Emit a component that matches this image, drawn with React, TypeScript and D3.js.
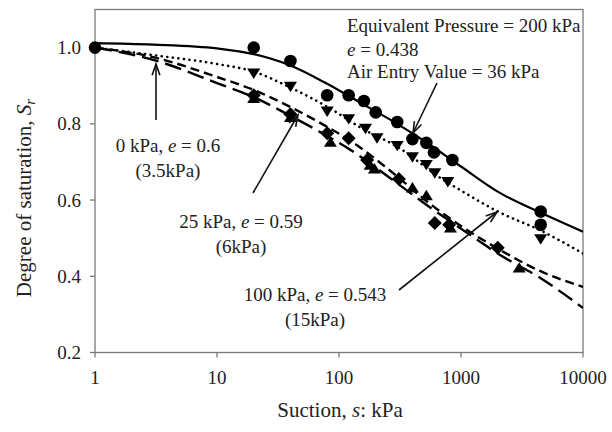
import React from "react";
import * as d3 from "d3";

// ---- data (suction s in kPa, degree of saturation Sr) ----
const xTicks = [1, 10, 100, 1000, 10000];
const yTicks = [0.2, 0.4, 0.6, 0.8, 1.0];

const circlePts: [number, number][] = [
  [1, 1.0], [20, 1.0], [40, 0.965], [80, 0.875], [120, 0.875], [160, 0.86],
  [200, 0.83], [300, 0.805], [400, 0.76], [520, 0.75], [600, 0.725], [850, 0.705],
  [4500, 0.57], [4500, 0.535],
];
const downTriPts: [number, number][] = [
  [20, 0.935], [40, 0.9], [80, 0.835], [120, 0.815], [165, 0.79], [205, 0.765],
  [300, 0.745], [400, 0.715], [520, 0.695], [610, 0.673], [780, 0.65], [4500, 0.5],
];
const diamondPts: [number, number][] = [
  [20, 0.875], [40, 0.825], [80, 0.775], [120, 0.762], [170, 0.705], [310, 0.655],
  [610, 0.54], [800, 0.535], [2000, 0.475],
];
const upTriPts: [number, number][] = [
  [20, 0.865], [40, 0.815], [85, 0.75], [180, 0.69], [195, 0.68], [400, 0.63],
  [520, 0.61], [820, 0.525], [3000, 0.42],
];

// fitted curves
const curveSolid: [number, number][] = [
  [1, 1.012], [3, 1.008], [10, 0.998], [20, 0.983], [40, 0.953], [80, 0.905],
  [150, 0.855], [300, 0.8], [500, 0.755], [1000, 0.688], [2000, 0.622],
  [5000, 0.56], [10000, 0.517],
];
const curveDotted: [number, number][] = [
  [1, 1.0], [3.2, 0.979], [10, 0.957], [20, 0.937], [40, 0.895], [80, 0.845],
  [160, 0.785], [300, 0.74], [700, 0.655], [1000, 0.625], [2000, 0.57],
  [4500, 0.52], [10000, 0.46],
];
const curveShortDash: [number, number][] = [
  [1, 1.0], [3, 0.975], [10, 0.923], [20, 0.889], [40, 0.844], [80, 0.792],
  [125, 0.755], [247, 0.684], [590, 0.584], [1000, 0.532], [2090, 0.469],
  [4440, 0.414], [10000, 0.372],
];
const curveLongDash: [number, number][] = [
  [1, 1.0], [3, 0.968], [10, 0.907], [20, 0.87], [40, 0.821], [80, 0.768],
  [125, 0.731], [247, 0.664], [590, 0.575], [1000, 0.525], [2090, 0.456],
  [4440, 0.396], [10000, 0.317],
];

const W = 612;
const H = 432;
const L = 95, R = 583, T = 9.5, B = 352.5;
const FONT = "'Liberation Serif', 'Times New Roman', serif";

function Arrow({ x1, y1, x2, y2 }: { x1: number; y1: number; x2: number; y2: number }) {
  const ang = Math.atan2(y2 - y1, x2 - x1);
  const len = 12, spread = 0.33;
  const a1 = ang + Math.PI - spread, a2 = ang + Math.PI + spread;
  return (
    <g stroke="#111" strokeWidth={1.6} fill="none">
      <line x1={x1} y1={y1} x2={x2} y2={y2} />
      <polyline
        points={`${x2 + len * Math.cos(a1)},${y2 + len * Math.sin(a1)} ${x2},${y2} ${x2 + len * Math.cos(a2)},${y2 + len * Math.sin(a2)}`}
      />
    </g>
  );
}

export default function App() {
  const x = d3.scaleLog().domain([1, 10000]).range([L, R]);
  const y = d3.scaleLinear().domain([0.2, 1.1]).range([B, T]);
  const line = d3
    .line<[number, number]>()
    .x((d) => x(d[0]))
    .y((d) => y(d[1]))
    .curve(d3.curveMonotoneX);

  const tri = (cx: number, cy: number, r: number, up: boolean) => {
    const s = up ? -1 : 1;
    return `M${cx - r},${cy - s * r * 0.6} L${cx + r},${cy - s * r * 0.6} L${cx},${cy + s * r * 1.0} Z`;
  };

  return (
    <svg width={W} height={H} style={{ position: "absolute", left: 0, top: 0, background: "#fff" }}>
      <defs>
        <clipPath id="plot">
          <rect x={L} y={T} width={R - L} height={B - T} />
        </clipPath>
      </defs>
      <rect x={0} y={0} width={W} height={H} fill="#fff" />
      {/* frame */}
      <rect x={L} y={T} width={R - L} height={B - T} fill="none" stroke="#7a7a7a" strokeWidth={1.3} />
      {/* ticks */}
      {xTicks.map((t) => (
        <line key={"xt" + t} x1={x(t)} x2={x(t)} y1={B} y2={B + 5} stroke="#7a7a7a" strokeWidth={1.3} />
      ))}
      {yTicks.map((t) => (
        <line key={"yt" + t} x1={L - 5} x2={L} y1={y(t)} y2={y(t)} stroke="#7a7a7a" strokeWidth={1.3} />
      ))}
      {xTicks.map((t) => (
        <text key={"xl" + t} x={x(t)} y={384} textAnchor="middle" fontFamily={FONT} fontSize={19} fill="#222">
          {t}
        </text>
      ))}
      {yTicks.map((t) => (
        <text key={"yl" + t} x={81} y={y(t) + 6.5} textAnchor="end" fontFamily={FONT} fontSize={19} fill="#222">
          {t.toFixed(1)}
        </text>
      ))}
      {/* axis titles */}
      <text x={340} y={417} textAnchor="middle" fontFamily={FONT} fontSize={21} fill="#222">
        Suction, <tspan fontStyle="italic">s</tspan>: kPa
      </text>
      <text
        transform={`translate(31,198) rotate(-90)`}
        textAnchor="middle"
        fontFamily={FONT}
        fontSize={21}
        fill="#222"
      >
        Degree of saturation, <tspan fontStyle="italic">S</tspan>
        <tspan fontStyle="italic" fontSize={15} dy={4}>r</tspan>
      </text>

      {/* curves */}
      <g clipPath="url(#plot)" fill="none" stroke="#000">
        <path d={line(curveSolid) || ""} strokeWidth={2.2} />
        <path d={line(curveDotted) || ""} strokeWidth={2.6} strokeDasharray="0.1 5.5" strokeLinecap="round" />
        <path d={line(curveShortDash) || ""} strokeWidth={2.4} strokeDasharray="9 5" />
        <path d={line(curveLongDash) || ""} strokeWidth={2.4} strokeDasharray="17 7" />
      </g>

      {/* markers */}
      <g fill="#000">
        {circlePts.map((d, i) => (
          <circle key={"c" + i} cx={x(d[0])} cy={y(d[1])} r={6.3} />
        ))}
        {downTriPts.map((d, i) => (
          <path key={"dt" + i} d={tri(x(d[0]), y(d[1]), 6.5, false)} />
        ))}
        {diamondPts.map((d, i) => (
          <path
            key={"dm" + i}
            d={`M${x(d[0])},${y(d[1]) - 7} L${x(d[0]) + 7},${y(d[1])} L${x(d[0])},${y(d[1]) + 7} L${x(d[0]) - 7},${y(d[1])} Z`}
          />
        ))}
        {upTriPts.map((d, i) => (
          <path key={"ut" + i} d={tri(x(d[0]), y(d[1]), 6.5, true)} />
        ))}
      </g>

      {/* annotations */}
      <g fontFamily={FONT} fontSize={19} fill="#222">
        <text x={347} y={32}>Equivalent Pressure = 200 kPa</text>
        <text x={347} y={56}>
          <tspan fontStyle="italic">e</tspan> = 0.438
        </text>
        <text x={347} y={78}>Air Entry Value = 36 kPa</text>

        <text x={168} y={152} textAnchor="middle">
          0 kPa, <tspan fontStyle="italic">e</tspan> = 0.6
        </text>
        <text x={168} y={177} textAnchor="middle">(3.5kPa)</text>

        <text x={241} y={228} textAnchor="middle">
          25 kPa, <tspan fontStyle="italic">e</tspan> = 0.59
        </text>
        <text x={241} y={253} textAnchor="middle">(6kPa)</text>

        <text x={315} y={301} textAnchor="middle">
          100 kPa, <tspan fontStyle="italic">e</tspan> = 0.543
        </text>
        <text x={315} y={326} textAnchor="middle">(15kPa)</text>
      </g>
      <Arrow x1={156} y1={120} x2={156} y2={64} />
      <Arrow x1={253} y1={193} x2={298} y2={115} />
      <Arrow x1={399} y1={290} x2={497} y2={212} />
      <Arrow x1={437} y1={83} x2={413} y2={133} />
    </svg>
  );
}
